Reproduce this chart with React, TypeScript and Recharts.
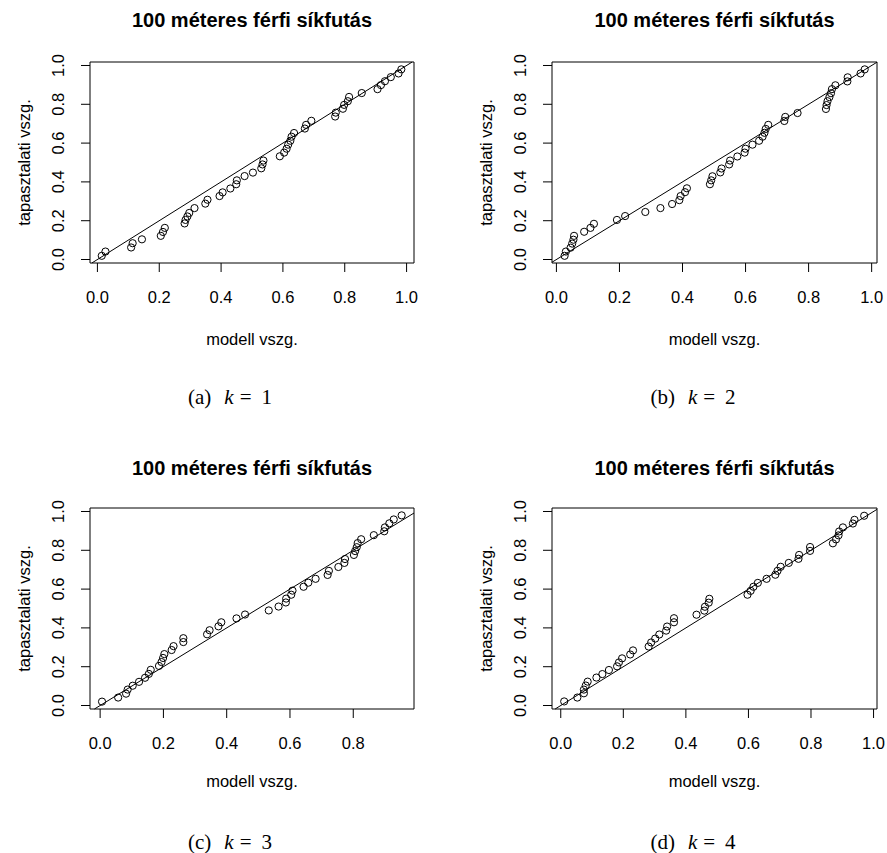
import { ScatterChart, Scatter, XAxis, YAxis, ReferenceArea, ReferenceLine } from "recharts";

const title = "100 méteres férfi síkfutás";
const xLabel = "modell vszg.";
const yLabel = "tapasztalati vszg.";
const ticksFull = [0, 0.2, 0.4, 0.6, 0.8, 1.0];
const ticksShort = [0, 0.2, 0.4, 0.6, 0.8];
const yTicks = [0, 0.2, 0.4, 0.6, 0.8, 1.0];

// (a) k = 1
const modelA = [0.014, 0.026, 0.109, 0.114, 0.144, 0.205, 0.212, 0.218, 0.282, 0.285, 0.291, 0.297, 0.314, 0.349, 0.356, 0.395, 0.405, 0.430, 0.449, 0.451, 0.476, 0.503, 0.530, 0.534, 0.537, 0.590, 0.604, 0.612, 0.617, 0.624, 0.628, 0.636, 0.671, 0.675, 0.692, 0.769, 0.771, 0.794, 0.798, 0.810, 0.814, 0.855, 0.906, 0.917, 0.930, 0.949, 0.974, 0.983];
const empA = [0.019, 0.041, 0.062, 0.084, 0.104, 0.122, 0.142, 0.163, 0.186, 0.204, 0.222, 0.240, 0.265, 0.288, 0.308, 0.327, 0.346, 0.366, 0.388, 0.408, 0.430, 0.448, 0.470, 0.490, 0.510, 0.532, 0.551, 0.571, 0.592, 0.612, 0.633, 0.652, 0.675, 0.694, 0.715, 0.737, 0.757, 0.777, 0.797, 0.816, 0.838, 0.858, 0.878, 0.899, 0.919, 0.940, 0.959, 0.980];

// (b) k = 2
const modelB = [0.026, 0.030, 0.045, 0.050, 0.054, 0.056, 0.088, 0.108, 0.119, 0.192, 0.218, 0.282, 0.330, 0.367, 0.390, 0.394, 0.408, 0.414, 0.487, 0.491, 0.495, 0.520, 0.524, 0.548, 0.551, 0.574, 0.597, 0.600, 0.622, 0.643, 0.654, 0.660, 0.664, 0.672, 0.723, 0.726, 0.765, 0.855, 0.857, 0.860, 0.866, 0.871, 0.874, 0.885, 0.923, 0.924, 0.965, 0.978];
const empB = [0.019, 0.041, 0.061, 0.082, 0.102, 0.122, 0.143, 0.163, 0.184, 0.204, 0.224, 0.245, 0.265, 0.286, 0.306, 0.327, 0.347, 0.367, 0.388, 0.408, 0.429, 0.449, 0.469, 0.490, 0.510, 0.531, 0.551, 0.571, 0.592, 0.612, 0.633, 0.653, 0.673, 0.694, 0.714, 0.735, 0.755, 0.776, 0.796, 0.816, 0.837, 0.857, 0.878, 0.898, 0.918, 0.939, 0.959, 0.980];

// (c) k = 3
const modelC = [0.006, 0.057, 0.082, 0.087, 0.103, 0.123, 0.142, 0.154, 0.160, 0.186, 0.194, 0.199, 0.203, 0.226, 0.232, 0.263, 0.263, 0.338, 0.346, 0.374, 0.383, 0.431, 0.458, 0.533, 0.564, 0.587, 0.588, 0.604, 0.608, 0.643, 0.658, 0.681, 0.719, 0.723, 0.753, 0.772, 0.774, 0.802, 0.806, 0.811, 0.814, 0.825, 0.865, 0.898, 0.900, 0.914, 0.928, 0.953];
const empC = [0.020, 0.041, 0.061, 0.082, 0.102, 0.122, 0.143, 0.163, 0.184, 0.204, 0.224, 0.245, 0.265, 0.286, 0.306, 0.327, 0.347, 0.367, 0.388, 0.408, 0.429, 0.449, 0.469, 0.490, 0.510, 0.531, 0.551, 0.571, 0.592, 0.612, 0.633, 0.653, 0.673, 0.694, 0.714, 0.735, 0.755, 0.776, 0.796, 0.816, 0.837, 0.857, 0.878, 0.898, 0.918, 0.939, 0.959, 0.980];

// (d) k = 4
const modelD = [0.011, 0.053, 0.074, 0.074, 0.080, 0.086, 0.114, 0.133, 0.154, 0.180, 0.186, 0.196, 0.222, 0.231, 0.281, 0.289, 0.302, 0.315, 0.337, 0.340, 0.362, 0.362, 0.434, 0.459, 0.461, 0.473, 0.475, 0.597, 0.607, 0.616, 0.630, 0.658, 0.686, 0.693, 0.703, 0.729, 0.760, 0.762, 0.797, 0.797, 0.870, 0.880, 0.888, 0.890, 0.902, 0.934, 0.939, 0.970];
const empD = [0.021, 0.041, 0.063, 0.082, 0.103, 0.123, 0.144, 0.162, 0.183, 0.202, 0.222, 0.243, 0.263, 0.284, 0.304, 0.325, 0.345, 0.366, 0.386, 0.407, 0.429, 0.450, 0.468, 0.489, 0.509, 0.530, 0.550, 0.571, 0.591, 0.612, 0.632, 0.653, 0.674, 0.694, 0.715, 0.735, 0.756, 0.776, 0.797, 0.817, 0.836, 0.856, 0.877, 0.897, 0.918, 0.938, 0.957, 0.978];

const SANS = "'Liberation Sans', Arial, Helvetica, sans-serif";
const SERIF = "'Liberation Serif', 'Times New Roman', serif";

const BOX_H = 201;
const Y_AXIS_W = 80;
const PAD_TOP = 10;
const PAD_RIGHT = 10;
const X_AXIS_H = 50;

const Ring = (props: any) => (
  <circle cx={props.cx} cy={props.cy} r={3.6} fill="none" stroke="#000" strokeWidth={1} />
);

function Panel({ left, top, width, xDomain, yDomain, xTicks, model, emp }: any) {
  const data = model.map((m: number, i: number) => ({ x: m, y: emp[i] }));
  // abline(0, 1) clipped to the plot box
  const lo = Math.max(xDomain[0], yDomain[0]);
  const hi = Math.min(xDomain[1], yDomain[1]);
  const plotBottom = PAD_TOP + BOX_H;

  const XTick = ({ x, payload }: any) => (
    <text x={x} y={plotBottom + 34} textAnchor="middle" dominantBaseline="central"
      fontFamily={SANS} fontSize={16.5} fill="#000">
      {payload.value.toFixed(1)}
    </text>
  );
  const YTick = ({ y, payload }: any) => (
    <text transform={`translate(${Y_AXIS_W - 32},${y}) rotate(-90)`} textAnchor="middle"
      dominantBaseline="central" fontFamily={SANS} fontSize={16.5} fill="#000">
      {payload.value.toFixed(1)}
    </text>
  );

  return (
    <div style={{ position: "absolute", left: left - Y_AXIS_W, top: top - PAD_TOP }}>
      <ScatterChart
        width={width + Y_AXIS_W + PAD_RIGHT}
        height={BOX_H + PAD_TOP + X_AXIS_H}
        margin={{ top: PAD_TOP, right: PAD_RIGHT, bottom: 0, left: 0 }}
      >
        <XAxis type="number" dataKey="x" domain={xDomain} ticks={xTicks} interval={0}
          allowDataOverflow axisLine={false} tickSize={9} tickLine={{ stroke: "#000" }}
          height={X_AXIS_H} tick={<XTick />} />
        <YAxis type="number" dataKey="y" domain={yDomain} ticks={yTicks} interval={0}
          allowDataOverflow axisLine={false} tickSize={9} tickLine={{ stroke: "#000" }}
          width={Y_AXIS_W} tick={<YTick />} />
        <ReferenceArea x1={xDomain[0]} x2={xDomain[1]} y1={yDomain[0]} y2={yDomain[1]}
          fill="none" fillOpacity={0} stroke="#000" strokeWidth={1} ifOverflow="visible" />
        <ReferenceLine segment={[{ x: lo, y: lo }, { x: hi, y: hi }]} stroke="#000"
          strokeWidth={1} ifOverflow="visible" />
        <Scatter data={data} shape={Ring} isAnimationActive={false} />
      </ScatterChart>
    </div>
  );
}

const panels = [
  { tag: "a", k: "1", left: 90, top: 62, width: 324, xDomain: [-0.024, 1.024], yDomain: [-0.018, 1.018], xTicks: ticksFull, model: modelA, emp: empA, capX: 230, titleY: 20, labY: 339, capY: 397 },
  { tag: "b", k: "2", left: 552, top: 62, width: 325, xDomain: [-0.014, 1.017], yDomain: [-0.018, 1.018], xTicks: ticksFull, model: modelB, emp: empB, capX: 693, titleY: 20, labY: 339, capY: 397 },
  { tag: "c", k: "3", left: 90, top: 508, width: 324, xDomain: [-0.032, 0.992], yDomain: [-0.018, 1.018], xTicks: ticksShort, model: modelC, emp: empC, capX: 230, titleY: 468, labY: 781, capY: 842 },
  { tag: "d", k: "4", left: 552, top: 508, width: 325, xDomain: [-0.028, 1.011], yDomain: [-0.018, 1.018], xTicks: ticksFull, model: modelD, emp: empD, capX: 693, titleY: 468, labY: 781, capY: 842 },
];

export default function App() {
  return (
    <div style={{ position: "absolute", left: 0, top: 0, width: 887, height: 853, background: "#fff", overflow: "hidden" }}>
      {panels.map((p) => (
        <Panel key={p.tag} {...p} />
      ))}
      <svg width={887} height={853} style={{ position: "absolute", left: 0, top: 0, pointerEvents: "none" }}>
        {panels.map((p) => {
          const cx = p.left + p.width / 2;
          const cy = p.top + BOX_H / 2;
          return (
            <g key={p.tag}>
              <text x={cx} y={p.titleY} textAnchor="middle" dominantBaseline="central"
                fontFamily={SANS} fontWeight="bold" fontSize={20} fill="#000">{title}</text>
              <text x={cx} y={p.labY} textAnchor="middle" dominantBaseline="central"
                fontFamily={SANS} fontSize={16.5} fill="#000">{xLabel}</text>
              <text transform={`translate(${p.left - 66},${cy}) rotate(-90)`} textAnchor="middle"
                dominantBaseline="central" fontFamily={SANS} fontSize={16.5} fill="#000">{yLabel}</text>
              <text x={p.capX} y={p.capY} textAnchor="middle" dominantBaseline="central"
                fontFamily={SERIF} fontSize={21} fill="#000">
                <tspan>({p.tag})</tspan>
                <tspan dx={13} fontStyle="italic">k</tspan>
                <tspan dx={6}>=</tspan>
                <tspan dx={10}>{p.k}</tspan>
              </text>
            </g>
          );
        })}
      </svg>
    </div>
  );
}
